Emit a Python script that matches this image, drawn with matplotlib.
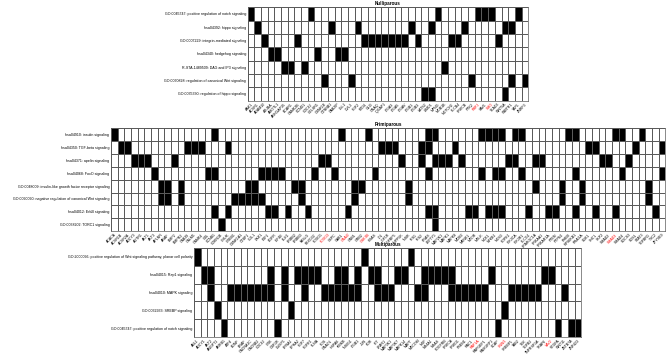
import numpy as np
import matplotlib
matplotlib.use("Agg")
import matplotlib.pyplot as plt
from matplotlib.colors import ListedColormap

plt.rcParams['font.family'] = ['Liberation Sans', 'DejaVu Sans']

# ---- Nulliparous ----
nulli_rows = ["GO:0045747: positive regulation of notch signaling",
              "hsa04392: hippo signaling",
              "GO:0007229: integrin-mediated signaling",
              "hsa04340: hedgehog signaling",
              "R-STA-1489509: DAG and IP3 signaling",
              "GO:0060828: regulation of canonical Wnt signaling",
              "GO:0035330: regulation of hippo signaling"]
nulli_genes = ["AAK1", "ACVR1", "ADAM10", "AJUBA", "AMOTL1", "ARHGAP35", "BCAR1",
               "CAMK2B", "CCND1", "CDC42", "CELSR1", "CSNK1E", "CTNNB1", "DAB2IP",
               "DLL1", "DVL3", "FGF2", "FZD4", "GLI3", "GNAQ", "IQGAP1", "ITGA3",
               "ITGA5", "ITGAV", "ITGB1", "ITGB3", "LATS2", "LIMD1", "MFNG", "MOB1B",
               "NOTCH2", "PLCB4", "PRKCB", "PTK2", "RBPJ", "SAV1", "SMO", "TEAD3",
               "WNT5A", "WWTR1", "YAP1", "ZNRF3"]
nulli_hits = [[0, 9, 28, 34, 35, 36, 40],
              [1, 12, 16, 24, 27, 32, 38, 39],
              [2, 7, 17, 18, 19, 20, 21, 22, 23, 25, 30, 31, 37],
              [3, 4, 10, 13, 14],
              [5, 6, 8, 29],
              [11, 15, 33, 39, 41],
              [26, 27, 38]]
nulli_red = [34, 36]

# ---- Primiparous ----
primi_rows = ["hsa04910: insulin signaling",
              "hsa04350: TGF-beta signaling",
              "hsa04371: apelin signaling",
              "hsa04068: FoxO signaling",
              "GO:0048009: insulin-like growth factor receptor signaling",
              "GO:0090090: negative regulation of canonical Wnt signaling",
              "hsa04012: ErbB signaling",
              "GO:0038202: TORC1 signaling"]
primi_genes = ["ACACA", "ACVR1B", "ACVR2A", "ADCY3", "AGTR1", "AKT1", "AKT3", "APLNR",
               "ARAF", "BMP2", "BMPR2", "CAB39", "CALM1", "CAMK4", "CBL", "CCNB1",
               "CDKN1B", "CHUK", "CREB1", "CSNK1A1", "CTBP1", "CUL1", "DKK1", "E2F1",
               "EGFR", "EIF4E", "ELK1", "ERBB2", "ERBB3", "FASLG", "FBXO32", "FOXO1",
               "FOXO3", "G6PC", "GAB1", "GNAI2", "GNB1", "GRB2", "GSK3B", "HRAS", "ID1",
               "IGF1R", "IGFBP5", "INPP5K", "INSR", "IRS1", "IRS2", "KRAS", "LEFTY1",
               "MAP2K1", "MAPK1", "MAPK8", "MDM2", "MKNK1", "MTOR", "MYLK", "NCK1",
               "NFKB1", "NOS3", "PDPK1", "PIK3CA", "PIK3R1", "PLCG1", "PPARGC1A",
               "PRKAA1", "PRKAR1A", "PTEN", "PTPN1", "RHEB", "RPS6KB1", "RRAGA", "SGK1",
               "SHC1", "SKP2", "SMAD2", "SMAD3", "SMAD4", "SOCS3", "SOS1", "STAT3",
               "TGFBR1", "TSC2", "ZFYVE9"]
primi_hits = [[0, 15, 34, 38, 47, 48, 55, 56, 57, 58, 60, 61, 68, 69, 75, 76, 79],
              [1, 2, 11, 12, 13, 17, 40, 41, 42, 46, 47, 51, 71, 72, 78, 82],
              [3, 4, 5, 9, 31, 32, 43, 46, 48, 49, 50, 52, 59, 60, 63, 64, 73, 74, 77],
              [6, 14, 15, 22, 23, 24, 25, 30, 33, 39, 47, 55, 57, 58, 61, 69, 76, 82],
              [7, 8, 10, 20, 21, 27, 28, 36, 37, 44, 63, 67, 70, 80],
              [7, 8, 10, 18, 19, 20, 21, 22, 28, 36, 44, 67, 70, 80],
              [15, 17, 23, 24, 26, 29, 35, 47, 48, 53, 54, 56, 57, 58, 62, 65, 66,
               69, 72, 75, 81],
              [16, 48]]
primi_red = [32, 35, 38, 75]

# ---- Multiparous ----
multi_rows = ["GO:2000096: positive regulation of Wnt signaling pathway, planar cell polarity",
              "hsa04015: Rap1 signaling",
              "hsa04010: MAPK signaling",
              "GO:0032933: SREBP signaling",
              "GO:0045747: positive regulation of notch signaling"]
multi_genes = ["ABL1", "ADCY1", "AKT2", "ANGPT1", "ARRB1", "ATF4", "BDNF", "BRAF",
               "CACNA1C", "CACNB2", "CDC42", "CRK", "CSF1R", "DUSP1", "EFNA1", "EPHA2",
               "FGF7", "FGFR1", "FLNA", "FOS", "GNAO1", "HSPA8", "IKBKB", "INSIG1",
               "ITGB1", "JUN", "KDR", "KIT", "LPAR1", "MAP3K1", "MAP3K7", "MAPK14",
               "MAPT", "MECOM", "NGF", "NR4A1", "NRAS", "PDGFRB", "PRKCA", "PRKD1",
               "PSEN1", "RAC1", "RAP1A", "RAPGEF1", "RASGRP1", "SCAP", "SNW1", "SREBF1",
               "TAB2", "TEK", "TGFB2", "TNFRSF1A", "TRAF6", "VAV2", "VEGFA", "WNT11",
               "ZBTB7A", "ZNF423"]
multi_hits = [[0, 25, 32],
              [1, 2, 11, 13, 15, 16, 17, 18, 21, 22, 24, 26, 27, 30, 31, 34, 35, 36,
               37, 38, 44, 52, 53],
              [2, 5, 6, 7, 8, 9, 10, 11, 13, 16, 19, 20, 21, 22, 23, 24, 27, 28, 29,
               33, 34, 38, 39, 40, 41, 42, 43, 47, 48, 49, 50, 51, 55],
              [3, 14, 46],
              [4, 12, 45, 54, 56, 57]]
multi_red = [42, 46, 53]

W, H = 667, 359
fig = plt.figure(figsize=(W / 100, H / 100), dpi=100)
cmap = ListedColormap(["white", "black"])
col_w = 6.68


def panel(title, rows, genes, hits, red, left, top, row_h):
    m = np.zeros((len(rows), len(genes)))
    for i, cols in enumerate(hits):
        m[i, cols] = 1
    w = len(genes) * col_w
    h = len(rows) * row_h
    ax = fig.add_axes([left / W, 1 - (top + h) / H, w / W, h / H])
    ax.pcolormesh(m, cmap=cmap, vmin=0, vmax=1, edgecolors="#5a5a5a", linewidth=0.45)
    ax.set_xlim(0, len(genes))
    ax.set_ylim(len(rows), 0)
    ax.set_yticks(np.arange(len(rows)) + 0.5)
    ax.set_yticklabels(rows, fontsize=2.6)
    ax.set_xticks(np.arange(len(genes)) + 0.5)
    ax.set_xticklabels(genes, fontsize=2.6, rotation=45, ha="right",
                       rotation_mode="anchor")
    for k in red:
        ax.get_xticklabels()[k].set_color("red")
    ax.tick_params(length=0, pad=1.2)
    for s in ax.spines.values():
        s.set_linewidth(0.5)
        s.set_color("#5a5a5a")
    ax.set_title(title, fontsize=3.3, fontweight="bold", pad=1.5)
    return ax


panel("Nulliparous", nulli_rows, nulli_genes, nulli_hits, nulli_red, 247.7, 7.3, 13.33)
panel("Primiparous", primi_rows, primi_genes, primi_hits, primi_red, 111.0, 128.3, 12.85)
panel("Multiparous", multi_rows, multi_genes, multi_hits, multi_red, 194.0, 248.0, 17.8)

fig.savefig("out.png", dpi=100)
